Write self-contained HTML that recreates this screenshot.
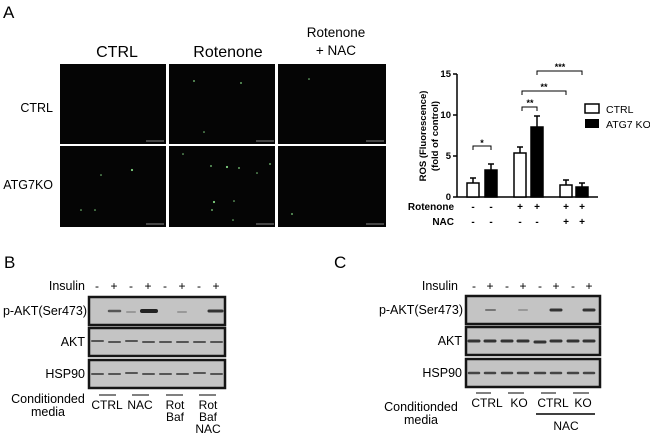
<!DOCTYPE html>
<html><head><style>
body{margin:0;background:#fff;}
svg{display:block;font-family:"Liberation Sans",Arial,sans-serif;}
</style></head><body>
<svg width="650" height="437" viewBox="0 0 650 437" xmlns="http://www.w3.org/2000/svg">
<!-- Panel A -->
<text x="3" y="18" font-size="17">A</text>
<text x="117" y="57" font-size="16" text-anchor="middle">CTRL</text>
<text x="228" y="57" font-size="16" text-anchor="middle">Rotenone</text>
<text x="336" y="37" font-size="13.5" text-anchor="middle">Rotenone</text>
<text x="336" y="55" font-size="13.5" text-anchor="middle">+ NAC</text>
<text x="53" y="112" font-size="12.5" text-anchor="end">CTRL</text>
<text x="53" y="189" font-size="12.5" text-anchor="end">ATG7KO</text>
<g fill="#050505">
<rect x="60" y="64" width="106" height="80"/><rect x="169" y="64" width="106" height="80"/><rect x="278" y="64" width="108" height="80"/>
<rect x="60" y="146" width="106" height="81"/><rect x="169" y="146" width="106" height="81"/><rect x="278" y="146" width="108" height="81"/>
</g>
<g fill="#7fd07f">
<circle cx="194" cy="81" r="0.9"/><circle cx="241" cy="83" r="0.9"/><circle cx="204" cy="132" r="0.8"/><circle cx="309" cy="79" r="0.8"/>
<circle cx="132" cy="170" r="1.1"/><circle cx="101" cy="175" r="0.8"/><circle cx="81" cy="210" r="0.8"/><circle cx="95" cy="210" r="0.8"/>
<circle cx="211" cy="166" r="0.9"/><circle cx="227" cy="167" r="1.1"/><circle cx="239" cy="168" r="0.9"/><circle cx="270" cy="164" r="0.9"/><circle cx="183" cy="154" r="0.8"/><circle cx="214" cy="202" r="1.1"/><circle cx="212" cy="210" r="0.9"/><circle cx="234" cy="201" r="0.8"/><circle cx="233" cy="220" r="0.8"/><circle cx="257" cy="173" r="0.8"/><circle cx="292" cy="214" r="0.9"/>
</g>
<g stroke="#888" stroke-width="1"><line x1="146" y1="141" x2="164" y2="141"/><line x1="256" y1="141" x2="274" y2="141"/><line x1="366" y1="141" x2="384" y2="141"/><line x1="146" y1="224" x2="164" y2="224"/><line x1="256" y1="224" x2="274" y2="224"/><line x1="366" y1="224" x2="384" y2="224"/></g>

<!-- Chart -->
<g stroke="#000" stroke-width="1.5" fill="none">
<line x1="457" y1="74" x2="457" y2="197"/>
<line x1="457" y1="197" x2="598" y2="197"/>
<line x1="453" y1="74" x2="457" y2="74"/><line x1="453" y1="115" x2="457" y2="115"/><line x1="453" y1="156" x2="457" y2="156"/><line x1="453" y1="197" x2="457" y2="197"/>
</g>
<g font-size="9.5" text-anchor="end" font-weight="bold"><text x="451" y="77">15</text><text x="451" y="118">10</text><text x="451" y="159">5</text><text x="451" y="200">0</text></g>
<text transform="translate(426,136) rotate(-90)" font-size="9.5" font-weight="bold" text-anchor="middle">ROS (Fluorescence)</text>
<text transform="translate(438,136) rotate(-90)" font-size="9.5" font-weight="bold" text-anchor="middle">(fold of control)</text>
<g stroke="#000" stroke-width="1.5">
<line x1="473" y1="183" x2="473" y2="178"/><line x1="470" y1="178" x2="476" y2="178"/>
<line x1="491" y1="170" x2="491" y2="164"/><line x1="488" y1="164" x2="494" y2="164"/>
<line x1="520" y1="153" x2="520" y2="147"/><line x1="517" y1="147" x2="523" y2="147"/>
<line x1="537" y1="127" x2="537" y2="116"/><line x1="534" y1="116" x2="540" y2="116"/>
<line x1="566" y1="185" x2="566" y2="180"/><line x1="563" y1="180" x2="569" y2="180"/>
<line x1="582" y1="187" x2="582" y2="183"/><line x1="579" y1="183" x2="585" y2="183"/>
</g>
<g stroke="#000" stroke-width="1.5">
<rect x="467" y="183" width="12" height="14" fill="#fff"/>
<rect x="485" y="170" width="12" height="27" fill="#000"/>
<rect x="514" y="153" width="12" height="44" fill="#fff"/>
<rect x="531" y="127" width="12" height="70" fill="#000"/>
<rect x="560" y="185" width="12" height="12" fill="#fff"/>
<rect x="576" y="187" width="12" height="10" fill="#000"/>
</g>
<g stroke="#000" stroke-width="1" fill="none">
<polyline points="473,150 473,146 491,146 491,150"/>
<polyline points="522,111 522,107 537,107 537,111"/>
<polyline points="522,95 522,91 566,91 566,95"/>
<polyline points="537,75 537,71 582,71 582,75"/>
</g>
<g font-size="9" font-weight="bold" text-anchor="middle">
<text x="482" y="146">*</text><text x="530" y="106">**</text><text x="544" y="90">**</text><text x="560" y="70">***</text>
</g>
<rect x="585" y="104" width="14" height="9" fill="#fff" stroke="#000" stroke-width="1.5"/>
<rect x="585" y="119" width="14" height="9" fill="#000"/>
<text x="606" y="113" font-size="10.5">CTRL</text>
<text x="606" y="128" font-size="10.5">ATG7 KO</text>
<g font-size="10" font-weight="bold">
<text x="454" y="210" text-anchor="end">Rotenone</text><text x="454" y="225" text-anchor="end">NAC</text>
<g text-anchor="middle">
<text x="473" y="210">-</text><text x="491" y="210">-</text><text x="520" y="210">+</text><text x="537" y="210">+</text><text x="566" y="210">+</text><text x="582" y="210">+</text>
<text x="473" y="225">-</text><text x="491" y="225">-</text><text x="520" y="225">-</text><text x="537" y="225">-</text><text x="566" y="225">+</text><text x="582" y="225">+</text>
</g></g>

<!-- Panel B -->
<text x="4" y="268" font-size="17">B</text>
<text x="85" y="290" font-size="12.5" text-anchor="end">Insulin</text>
<g font-size="12" text-anchor="middle">
<text x="97" y="290">-</text><text x="114" y="290">+</text><text x="131" y="290">-</text><text x="148" y="290">+</text><text x="165" y="290">-</text><text x="182" y="290">+</text><text x="199" y="290">-</text><text x="216" y="290">+</text>
</g>
<g fill="#c4c4c4" stroke="#151515" stroke-width="2.5">
<rect x="89" y="297" width="136" height="28"/><rect x="89" y="328" width="136" height="28"/><rect x="89" y="360" width="136" height="28"/>
</g>
<g stroke-linecap="round">
<line x1="109" y1="311" x2="120" y2="311" stroke="#555" stroke-width="2.5"/>
<line x1="127" y1="312" x2="135" y2="312" stroke="#999" stroke-width="2"/>
<line x1="142" y1="311" x2="156" y2="311" stroke="#222" stroke-width="4"/>
<line x1="178" y1="312" x2="186" y2="312" stroke="#999" stroke-width="2"/>
<line x1="209" y1="311" x2="222" y2="311" stroke="#333" stroke-width="3"/>
</g>
<g stroke="#555" stroke-width="2" stroke-linecap="round">
<line x1="92" y1="341" x2="103" y2="341"/><line x1="109" y1="342" x2="120" y2="342"/><line x1="126" y1="341" x2="137" y2="341"/><line x1="143" y1="342" x2="154" y2="342"/><line x1="160" y1="342" x2="171" y2="342"/><line x1="177" y1="342" x2="188" y2="342"/><line x1="194" y1="342" x2="205" y2="342"/><line x1="211" y1="342" x2="222" y2="342"/>
<line x1="92" y1="374" x2="103" y2="374"/><line x1="109" y1="374" x2="120" y2="374"/><line x1="126" y1="373" x2="137" y2="373"/><line x1="143" y1="374" x2="154" y2="374"/><line x1="160" y1="374" x2="171" y2="374"/><line x1="177" y1="374" x2="188" y2="374"/><line x1="194" y1="373" x2="205" y2="373"/><line x1="211" y1="374" x2="222" y2="374"/>
</g>
<text x="87" y="315" font-size="12.5" text-anchor="end">p-AKT(Ser473)</text>
<text x="85" y="346" font-size="12.5" text-anchor="end">AKT</text>
<text x="85" y="378" font-size="12.5" text-anchor="end">HSP90</text>
<text x="48" y="403" font-size="12.5" text-anchor="middle">Conditionded</text>
<text x="48" y="416" font-size="12.5" text-anchor="middle">media</text>
<g stroke="#000" stroke-width="1"><line x1="99" y1="395" x2="116" y2="395"/><line x1="132" y1="395" x2="149" y2="395"/><line x1="166" y1="395" x2="183" y2="395"/><line x1="199" y1="395" x2="216" y2="395"/></g>
<g font-size="12" text-anchor="middle">
<text x="107" y="409">CTRL</text><text x="140" y="409">NAC</text>
<text x="175" y="409">Rot</text><text x="175" y="421">Baf</text>
<text x="208" y="409">Rot</text><text x="208" y="421">Baf</text><text x="208" y="433">NAC</text>
</g>

<!-- Panel C -->
<text x="334" y="268" font-size="17">C</text>
<text x="458" y="290" font-size="12.5" text-anchor="end">Insulin</text>
<g font-size="12" text-anchor="middle">
<text x="474" y="290">-</text><text x="490" y="290">+</text><text x="507" y="290">-</text><text x="523" y="290">+</text><text x="540" y="290">-</text><text x="556" y="290">+</text><text x="573" y="290">-</text><text x="589" y="290">+</text>
</g>
<g fill="#c4c4c4" stroke="#151515" stroke-width="2.5">
<rect x="466" y="296" width="134" height="28"/><rect x="466" y="327" width="134" height="28"/><rect x="466" y="359" width="134" height="28"/>
</g>
<g stroke-linecap="round">
<line x1="486" y1="310" x2="495" y2="310" stroke="#777" stroke-width="2"/>
<line x1="519" y1="310" x2="527" y2="310" stroke="#999" stroke-width="2"/>
<line x1="551" y1="310" x2="561" y2="310" stroke="#333" stroke-width="3"/>
<line x1="584" y1="310" x2="594" y2="310" stroke="#333" stroke-width="3"/>
</g>
<g stroke="#333" stroke-width="3" stroke-linecap="round">
<line x1="469" y1="341" x2="479" y2="341"/><line x1="485" y1="341" x2="495" y2="341"/><line x1="502" y1="341" x2="512" y2="341"/><line x1="518" y1="341" x2="528" y2="341"/><line x1="535" y1="342" x2="545" y2="342"/><line x1="551" y1="341" x2="561" y2="341"/><line x1="568" y1="341" x2="578" y2="341"/><line x1="584" y1="341" x2="594" y2="341"/>
</g>
<g stroke="#444" stroke-width="2.5" stroke-linecap="round">
<line x1="469" y1="373" x2="479" y2="373"/><line x1="485" y1="373" x2="495" y2="373"/><line x1="502" y1="373" x2="512" y2="373"/><line x1="518" y1="373" x2="528" y2="373"/><line x1="535" y1="373" x2="545" y2="373"/><line x1="551" y1="373" x2="561" y2="373"/><line x1="568" y1="373" x2="578" y2="373"/><line x1="584" y1="373" x2="594" y2="373"/>
</g>
<text x="463" y="314" font-size="12.5" text-anchor="end">p-AKT(Ser473)</text>
<text x="462" y="345" font-size="12.5" text-anchor="end">AKT</text>
<text x="462" y="377" font-size="12.5" text-anchor="end">HSP90</text>
<text x="421" y="411" font-size="12.5" text-anchor="middle">Conditionded</text>
<text x="421" y="424" font-size="12.5" text-anchor="middle">media</text>
<g stroke="#000" stroke-width="1"><line x1="476" y1="393" x2="491" y2="393"/><line x1="508" y1="393" x2="524" y2="393"/><line x1="541" y1="393" x2="556" y2="393"/><line x1="573" y1="393" x2="589" y2="393"/></g>
<g font-size="12" text-anchor="middle">
<text x="487" y="407">CTRL</text><text x="519" y="407">KO</text><text x="553" y="407">CTRL</text><text x="583" y="407">KO</text>
</g>
<line x1="536" y1="414" x2="595" y2="414" stroke="#000" stroke-width="1.5"/>
<text x="566" y="430" font-size="12" text-anchor="middle">NAC</text>
</svg>
</body></html>
